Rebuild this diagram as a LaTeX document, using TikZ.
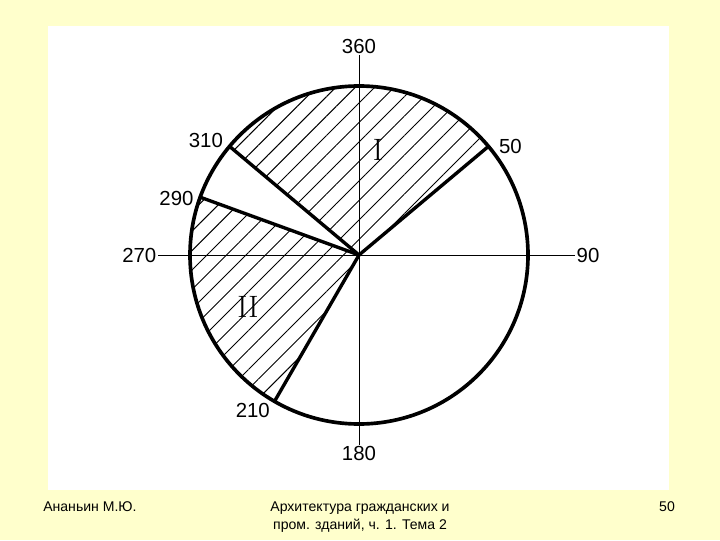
\documentclass[tikz,border=0pt]{standalone}
\usepackage{fontspec}
\newfontfamily\degfont{Liberation Sans}
\usepackage{tikz}
\usetikzlibrary{patterns.meta,positioning}
\usetikzlibrary{calc}
\definecolor{slidebg}{HTML}{FFFFCC}

\begin{document}
\begin{tikzpicture}[x=0.025cm,y=0.025cm]
  \useasboundingbox (0,0) rectangle (720,540);
  \tikzset{CircleStyle/.style = {draw=black, line width=2.6pt}}
  \tikzset{RadiusStyle/.style = {draw=black, line width=2.4pt, line cap=round}}
  \tikzset{AxisStyle/.style   = {draw=black, line width=0.6pt}}
  \tikzset{HatchStyle/.style  = {pattern={Lines[angle=45, distance=9.8pt, line width=0.7pt]}}}
  \tikzset{DegStyle/.style    = {inner sep=1pt, text=black, font=\degfont\fontsize{14.5}{15}\selectfont}}
  \tikzset{ZoneStyle/.style   = {inner sep=0pt, text=black, font=\fontsize{22}{23}\selectfont}}
  \tikzset{FootStyle/.style   = {inner sep=0pt, text=black, font=\degfont\fontsize{10}{13}\selectfont}}

  % slide and drawing sheet
  \fill[slidebg] (0,0) rectangle (720,540);
  \fill[white] (48,50) rectangle (669,514);

  \coordinate (O) at (359,285);
  \coordinate (p50)  at ($(O)+(40:169)$);
  \coordinate (p310) at ($(O)+(140:169)$);
  \coordinate (p290) at ($(O)+(160:169)$);
  \coordinate (p210) at ($(O)+(240:169)$);
  \coordinate (top)   at (359,485);
  \coordinate (bot)   at (359,95);
  \coordinate (left)  at (158,285);
  \coordinate (right) at (575,285);

  % hatched sectors
  \fill[HatchStyle] (O) -- (p50) arc[start angle=40, end angle=140, radius=169] -- cycle;
  \fill[HatchStyle] (O) -- (p290) arc[start angle=160, end angle=240, radius=169] -- cycle;

  \draw[AxisStyle] (top) -- (bot);
  \draw[AxisStyle] (left) -- (right);
  \draw[CircleStyle] (O) circle[radius=169];

  \draw[RadiusStyle] (O) -- (p50);
  \draw[RadiusStyle] (O) -- (p310);
  \draw[RadiusStyle] (O) -- (p290);
  \draw[RadiusStyle] (O) -- (p210);

  \node(d360)[DegStyle, above=0pt of top]{360};
  \node(d180)[DegStyle, below=0pt of bot]{180};
  \node(d270)[DegStyle, left=0pt of left]{270};
  \node(d90)[DegStyle, right=0pt of right]{90};
  \node(d50)[DegStyle, anchor=west] at ($(p50)+(9,0)$){50};
  \node(d310)[DegStyle, anchor=east] at ($(p310)+(-5,6)$){310};
  \node(d290)[DegStyle, anchor=east] at ($(p290)+(-5,-1)$){290};
  \node(d210)[DegStyle, anchor=east] at ($(p210)+(-3,-9)$){210};

  \node(z1)[ZoneStyle] at (378,390){I};
  \node(z2)[ZoneStyle] at (248,233){II};

  \node(author)[FootStyle, anchor=west] at (43,33){Ананьин М.Ю.};
  \node(title)[FootStyle, align=center] at (360,23){Архитектура гражданских и\\пром. зданий, ч. 1. Тема 2};
  \node(page)[FootStyle] at (667,33){50};
\end{tikzpicture}
\end{document}
